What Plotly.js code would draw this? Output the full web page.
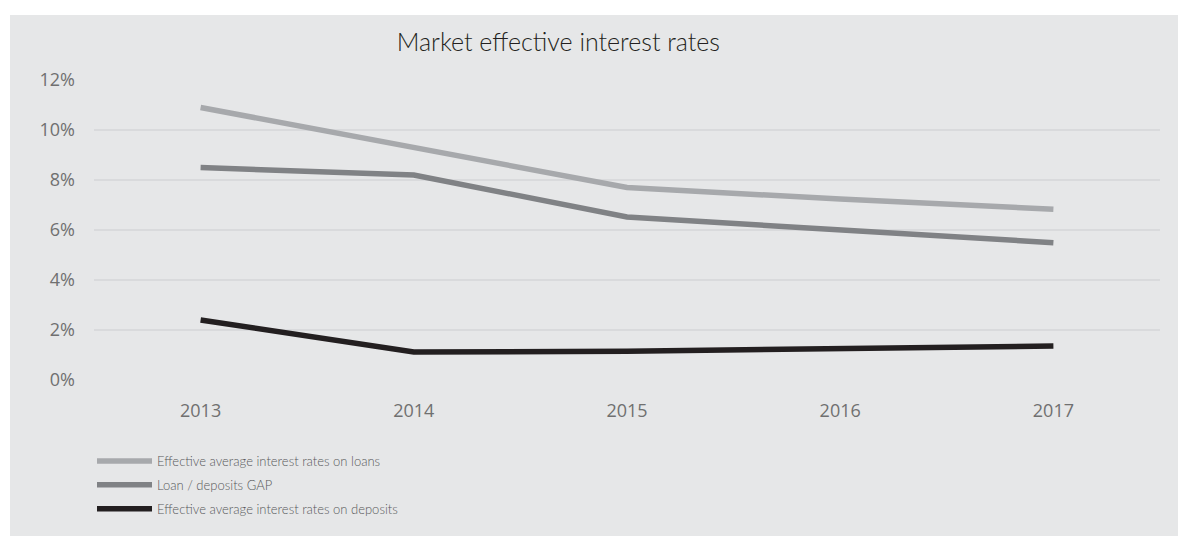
<!DOCTYPE html>
<html>
<head>
<meta charset="utf-8">
<script src="https://cdn.plot.ly/plotly-3.0.1.min.js"></script>
<style>html,body{margin:0;padding:0;background:#fff}#chart{width:1178px;height:536px}</style>
</head>
<body>
<div id="chart"></div>
<script>
const years = ["2013", "2014", "2015", "2016", "2017"];
const loansRates = [10.9, 9.3, 7.7, 7.24, 6.83];
const gapRates = [8.5, 8.2, 6.52, 5.98, 5.49];
const depositRates = [2.4, 1.12, 1.15, 1.25, 1.36];
const seriesNames = [
  "Effective average interest rates on loans",
  "Loan / deposits GAP",
  "Effective average interest rates on deposits"
];
const yTickVals = [0, 2, 4, 6, 8, 10, 12];
const yTickText = ["0%", "2%", "4%", "6%", "8%", "10%", "12%"];

const colors = ["#a7a9ac", "#808285", "#231f20"];
const seriesData = [loansRates, gapRates, depositRates];

const traces = seriesData.map((vals, i) => ({
  type: "scatter",
  mode: "lines",
  x: years,
  y: vals,
  name: seriesNames[i],
  legendgroup: "g" + i,
  line: {color: colors[i], width: 5.5},
  hoverinfo: "skip"
}));

const L = 94, R = 18, T = 80, B = 156, W = 1178, H = 536;
const pw = W - L - R, ph = H - T - B;

const layout = {
  width: W, height: H,
  margin: {l: L, r: R, t: T, b: B, pad: 0},
  paper_bgcolor: "#ffffff",
  plot_bgcolor: "rgba(0,0,0,0)",
  title: {
    text: "Market effective interest rates",
    font: {family: "Lato", size: 25, color: "#231f20", weight: 300},
    x: 0.474, xref: "container", xanchor: "center",
    y: 1 - 42 / H, yref: "container", yanchor: "middle"
  },
  shapes: [{
    type: "rect", xref: "paper", yref: "paper", layer: "below",
    x0: (10 - L) / pw, x1: (W - L) / pw,
    y0: -(H - T - ph) / ph, y1: (T + ph - 15) / ph,
    fillcolor: "#e6e7e8", line: {width: 0}
  }],
  xaxis: {
    type: "category",
    range: [-0.5, 4.5],
    showgrid: false, zeroline: false, showline: false,
    ticks: "", ticklabelstandoff: 18,
    tickfont: {family: "Open Sans", size: 18, color: "#707070"},
    fixedrange: true
  },
  yaxis: {
    range: [0, 12],
    tickvals: yTickVals, ticktext: yTickText,
    showgrid: true, gridcolor: "#d9dadc", gridwidth: 2,
    zeroline: false, showline: false, ticks: "",
    ticklabelstandoff: 18,
    tickfont: {family: "Open Sans", size: 18, color: "#707070"},
    fixedrange: true
  },
  showlegend: true,
  legend: {
    x: (92 - L) / pw, xanchor: "left",
    y: -(446 - T - ph) / ph, yanchor: "top",
    orientation: "v",
    bgcolor: "rgba(0,0,0,0)",
    font: {family: "Lato", size: 13, color: "#58595b", weight: 300},
    itemwidth: 55,
    tracegroupgap: 4,
    traceorder: "grouped"
  }
};

Plotly.newPlot("chart", traces, layout, {displayModeBar: false, staticPlot: true});
</script>
</body>
</html>
